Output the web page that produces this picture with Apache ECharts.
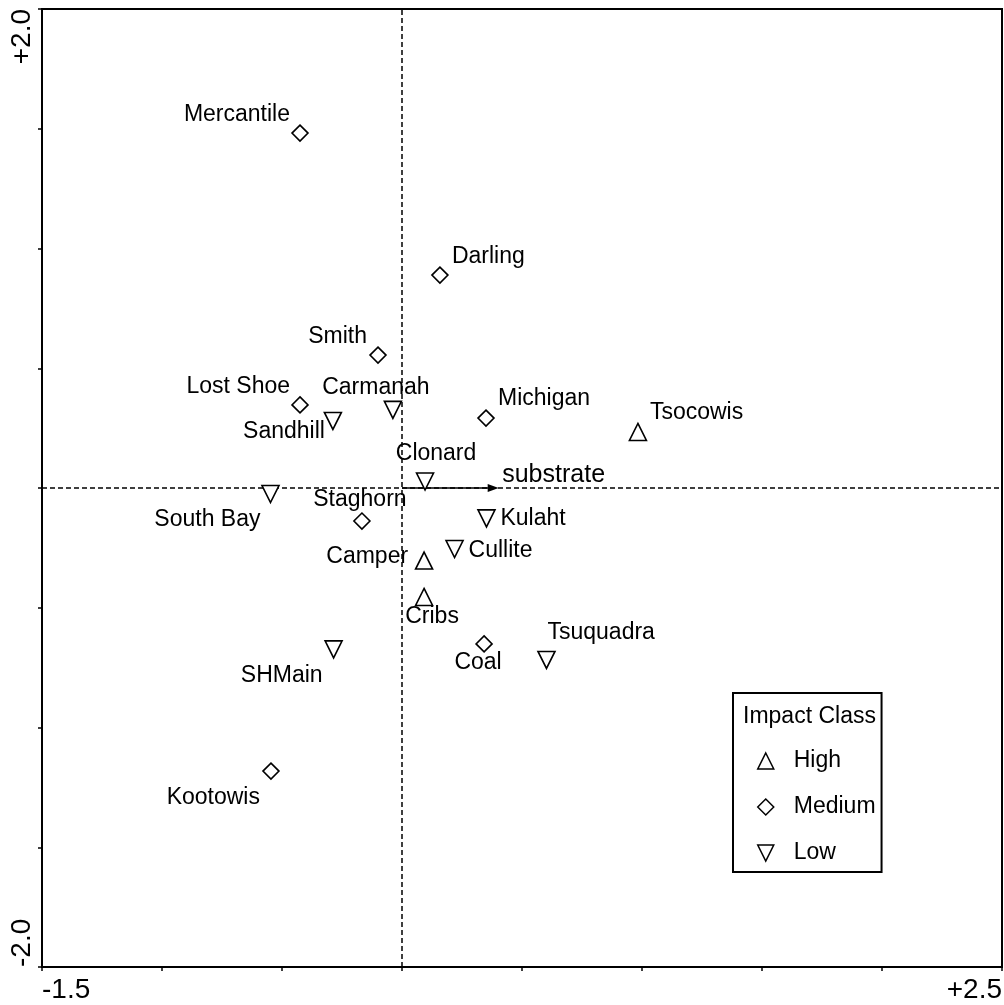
<!DOCTYPE html>
<html>
<head>
<meta charset="utf-8">
<title>Impact Class ordination</title>
<script src="https://cdn.jsdelivr.net/npm/echarts@6/dist/echarts.min.js"></script>
<style>
  html, body { margin: 0; padding: 0; background: #fff; }
  #chart { width: 1004px; height: 1005px; }
</style>
</head>
<body>
<div id="chart"></div>
<script>
// Site scores on the first two ordination axes
const siteNames = ['Mercantile', 'Darling', 'Smith', 'Lost Shoe', 'Carmanah', 'Sandhill', 'Michigan',
  'Tsocowis', 'Clonard', 'South Bay', 'Staghorn', 'Kulaht', 'Cullite', 'Camper', 'Cribs',
  'SHMain', 'Coal', 'Tsuquadra', 'Kootowis'];
const siteX = [-0.425, 0.158, -0.100, -0.425, -0.038, -0.288, 0.350,
  0.983, 0.096, -0.548, -0.167, 0.352, 0.219, 0.092, 0.092,
  -0.285, 0.342, 0.602, -0.546];
const siteY = [1.482, 0.889, 0.555, 0.347, 0.326, 0.280, 0.292,
  0.234, 0.027, -0.025, -0.138, -0.127, -0.255, -0.303, -0.455,
  -0.674, -0.651, -0.718, -1.182];
const siteClass = ['Medium', 'Medium', 'Medium', 'Medium', 'Low', 'Low', 'Medium',
  'High', 'Low', 'Low', 'Medium', 'Low', 'Low', 'High', 'High',
  'Low', 'Medium', 'Low', 'Medium'];

// Environmental vector
const vectorName = 'substrate';
const vectorEnd = [0.38, 0];

// Legend classes and axis end labels
const impactClasses = ['High', 'Medium', 'Low'];
const legendTitle = 'Impact Class';
const xTickLabels = ['-1.5', '+2.5'];
const yTickLabels = ['-2.0', '+2.0'];

const FONT = '"Liberation Sans", Arial, Helvetica, sans-serif';

const downTriangle = 'path://M0,0L20,0L10,20Z';
const classSymbol = { High: 'triangle', Medium: 'diamond', Low: downTriangle };
const classSize = { High: 17, Medium: 16, Low: 17 };

// Label placement around each marker: [align, dx, dy]
const labelPlacement = {
  'Mercantile': ['right', -10, -18],
  'Darling': ['left', 12, -18],
  'Smith': ['right', -11, -18],
  'Lost Shoe': ['right', -10, -18],
  'Carmanah': ['center', -17, -22],
  'Sandhill': ['right', -8, 11],
  'Michigan': ['left', 12, -19],
  'Tsocowis': ['left', 12, -19],
  'Clonard': ['center', 11, -28],
  'South Bay': ['right', -10, 26],
  'Staghorn': ['center', -2, -21],
  'Kulaht': ['left', 14, 0],
  'Cullite': ['left', 14, 2],
  'Camper': ['right', -16, -4],
  'Cribs': ['center', 8, 20],
  'SHMain': ['right', -11, 26],
  'Coal': ['center', -6, 19],
  'Tsuquadra': ['left', 1, -27],
  'Kootowis': ['right', -11, 27]
};

function classSeries(cls) {
  const data = [];
  siteNames.forEach(function (name, i) {
    if (siteClass[i] !== cls) return;
    const p = labelPlacement[name];
    data.push({
      name: name,
      value: [siteX[i], siteY[i]],
      label: { align: p[0], offset: [p[1], p[2]] }
    });
  });
  return {
    name: cls,
    type: 'scatter',
    symbol: classSymbol[cls],
    symbolSize: classSize[cls],
    itemStyle: { color: '#fff', borderColor: '#000', borderWidth: 1.6, opacity: 1 },
    label: {
      show: true,
      position: 'inside',
      verticalAlign: 'middle',
      formatter: '{b}',
      color: '#000',
      textBorderWidth: 0,
      fontSize: 23,
      fontFamily: FONT
    },
    emphasis: { disabled: true },
    z: 5,
    data: data
  };
}

const dashed = { color: '#000', width: 1.5, type: [5, 3], opacity: 1 };

const series = impactClasses.map(classSeries);

// Dashed zero lines and the vector arrow with its label
series.push({
  name: vectorName,
  type: 'line',
  data: [],
  markLine: {
    silent: true,
    animation: false,
    symbol: 'none',
    label: { show: false },
    emphasis: { disabled: true },
    lineStyle: dashed,
    data: [
      { xAxis: 0 },
      { yAxis: 0 },
      [
        { coord: [0, 0], symbol: 'none' },
        {
          coord: vectorEnd,
          symbol: 'triangle',
          symbolSize: [8, 11],
          lineStyle: { type: 'solid', width: 1.5, color: '#000', opacity: 1 },
          itemStyle: { color: '#000', opacity: 1 },
          label: {
            show: true,
            position: 'end',
            formatter: vectorName,
            color: '#000',
            opacity: 1,
            textBorderWidth: 0,
            fontSize: 25,
            fontFamily: FONT,
            distance: 9,
            align: 'left',
            verticalAlign: 'bottom'
          }
        }
      ]
    ]
  }
});

const chart = echarts.init(document.getElementById('chart'), null, { renderer: 'canvas' });

chart.setOption({
  animation: false,
  backgroundColor: '#fff',
  textStyle: { fontFamily: FONT },
  grid: {
    left: 42, right: 2, top: 9, bottom: 38,
    show: true, borderColor: '#000', borderWidth: 2,
    outerBoundsMode: 'none'
  },
  title: {
    text: legendTitle,
    left: 743,
    top: 705,
    padding: 0,
    z: 10,
    textStyle: { fontSize: 23, fontWeight: 'normal', color: '#000', fontFamily: FONT }
  },
  legend: {
    orient: 'vertical',
    left: 733,
    top: 693,
    padding: [56, 6, 7, 24],
    itemGap: 22,
    itemWidth: 16,
    itemHeight: 16,
    selectedMode: false,
    borderColor: '#000',
    borderWidth: 2,
    backgroundColor: '#fff',
    itemStyle: { borderWidth: 1.5 },
    textStyle: { fontSize: 23, color: '#000', fontFamily: FONT, lineHeight: 24, padding: [0, 0, 0, 15] },
    data: impactClasses.map(function (c) { return { name: c, icon: classSymbol[c] }; })
  },
  xAxis: {
    type: 'value',
    min: -1.5,
    max: 2.5,
    interval: 0.5,
    splitLine: { show: false },
    axisLine: { show: true, onZero: false, lineStyle: { color: '#000', width: 2 } },
    axisTick: { show: true, inside: false, length: 4, lineStyle: { color: '#000', width: 1.5 } },
    axisLabel: {
      show: true,
      margin: 9,
      fontSize: 28,
      color: '#000',
      fontFamily: FONT,
      alignMinLabel: 'left',
      alignMaxLabel: 'right',
      formatter: function (v) {
        if (v === -1.5) return xTickLabels[0];
        if (v === 2.5) return xTickLabels[1];
        return '';
      }
    }
  },
  yAxis: {
    type: 'value',
    min: -2,
    max: 2,
    interval: 0.5,
    splitLine: { show: false },
    axisLine: { show: true, onZero: false, lineStyle: { color: '#000', width: 2 } },
    axisTick: { show: true, inside: false, length: 4, lineStyle: { color: '#000', width: 1.5 } },
    axisLabel: {
      show: true,
      rotate: 90,
      margin: 6,
      fontSize: 28,
      color: '#000',
      fontFamily: FONT,
      alignMinLabel: 'left',
      alignMaxLabel: 'right',
      formatter: function (v) {
        if (v === -2) return yTickLabels[0];
        if (v === 2) return yTickLabels[1];
        return '';
      }
    }
  },
  series: series
});
</script>
</body>
</html>
